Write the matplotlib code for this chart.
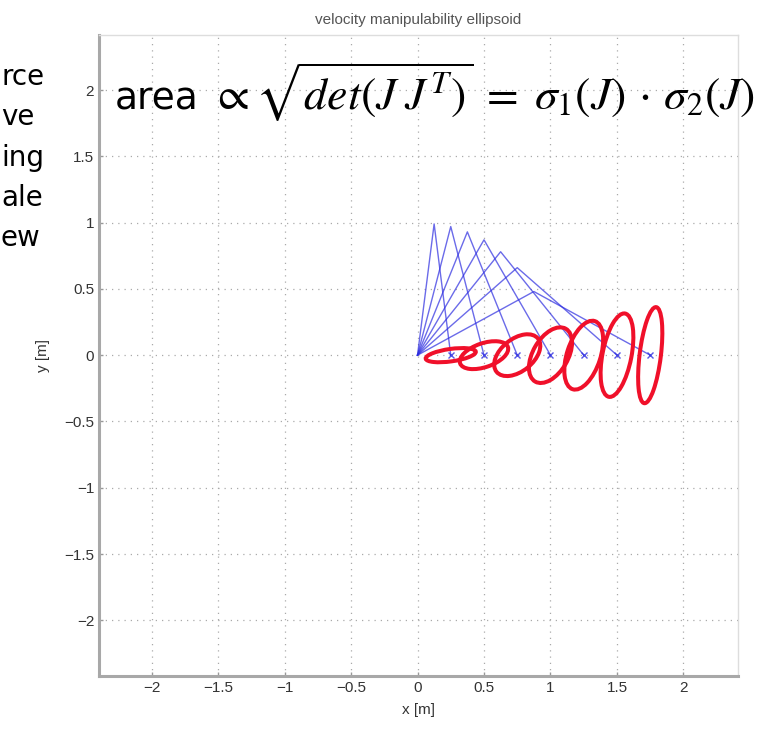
import matplotlib
matplotlib.use("Agg")
import matplotlib.pyplot as plt
from matplotlib.patches import Ellipse

plt.rcParams['mathtext.fontset'] = 'stix'

# --- data ---
end_x = [0.25, 0.5, 0.75, 1.0, 1.25, 1.5, 1.75]
end_y = [0, 0, 0, 0, 0, 0, 0]
elbow_x = [0.125, 0.25, 0.375, 0.5, 0.625, 0.75, 0.875]
elbow_y = [0.99, 0.97, 0.93, 0.87, 0.78, 0.66, 0.48]

# ellipses: semi axes and tilt (deg), centred on the end effector
ell_major = [0.19, 0.19, 0.20, 0.23, 0.27, 0.32, 0.365]
ell_minor = [0.047, 0.09, 0.122, 0.132, 0.126, 0.109, 0.08]
ell_angle = [8, 19, 39, 60, 72, 79, 83]

ticks = [-2, -1.5, -1, -0.5, 0, 0.5, 1, 1.5, 2]
side_words = ["rce", "ve", "ing", "ale", "ew"]

fig = plt.figure(figsize=(7.6, 7.36), dpi=100)
ax = fig.add_axes([99 / 760, 1 - 676 / 736, 639 / 760, 641 / 736])

# arm links
for i in range(len(end_x)):
    ax.plot([0, elbow_x[i], end_x[i]], [0, elbow_y[i], end_y[i]],
            color='#2c2ce0', lw=1.0, alpha=0.7, zorder=3)
ax.plot(end_x, end_y, 'x', color='#2c2ce0', ms=5, mew=1, alpha=0.8, zorder=3)

# manipulability ellipses
for i in range(len(end_x)):
    e = Ellipse((end_x[i], end_y[i]), 2 * ell_major[i], 2 * ell_minor[i],
                angle=ell_angle[i], fill=False, ec='#f0102a', lw=2.9, zorder=4)
    ax.add_patch(e)

ax.set_xlim(-2.395, 2.41)
ax.set_ylim(-2.42, 2.415)
ax.set_xticks(ticks)
ax.set_yticks(ticks)
ax.set_xticklabels([f"{t:g}".replace('-', '\u2212') for t in ticks])
ax.set_yticklabels([f"{t:g}".replace('-', '\u2212') for t in ticks])
ax.tick_params(direction='in', length=3, width=1, color='#999999',
               labelsize=11, labelcolor='#333333')
for lab in ax.get_xticklabels() + ax.get_yticklabels():
    lab.set_family('Liberation Sans')

ax.grid(True, linestyle=(0, (1, 4)), color='#aaaaaa', lw=0.9)
for s in ['left', 'bottom']:
    ax.spines[s].set_color('#a8a8a8')
    ax.spines[s].set_linewidth(2.2)
for s in ['top', 'right']:
    ax.spines[s].set_color('#dddddd')
    ax.spines[s].set_linewidth(1)

ax.set_xlabel('x [m]', fontsize=11, color='#333333', family='Liberation Sans', labelpad=6)
ax.set_ylabel('y [m]', fontsize=11, color='#333333', family='Liberation Sans', labelpad=10)
ax.set_title('velocity manipulability ellipsoid', fontsize=11, color='#555555',
             family='Liberation Sans', pad=8)

# cut-off slide text on the left
for i, w in enumerate(side_words):
    fig.text(1 / 760, 1 - (85 + 40.3 * i) / 736, w, ha='left', va='baseline',
             fontsize=20, family='DejaVu Sans', color='black')

# formula overlay
fig.text(115 / 760, 1 - 110 / 736, "area", ha='left', va='baseline',
         fontsize=27, family='DejaVu Sans', color='black')
fig.text(211 / 760, 1 - 110 / 736,
         r"$\propto\sqrt{det(J\;J^T)}\;=\;\sigma_1(J)\,\cdot\,\sigma_2(J)$",
         ha='left', va='baseline', fontsize=33, color='black')

fig.savefig("out.png", dpi=100)
